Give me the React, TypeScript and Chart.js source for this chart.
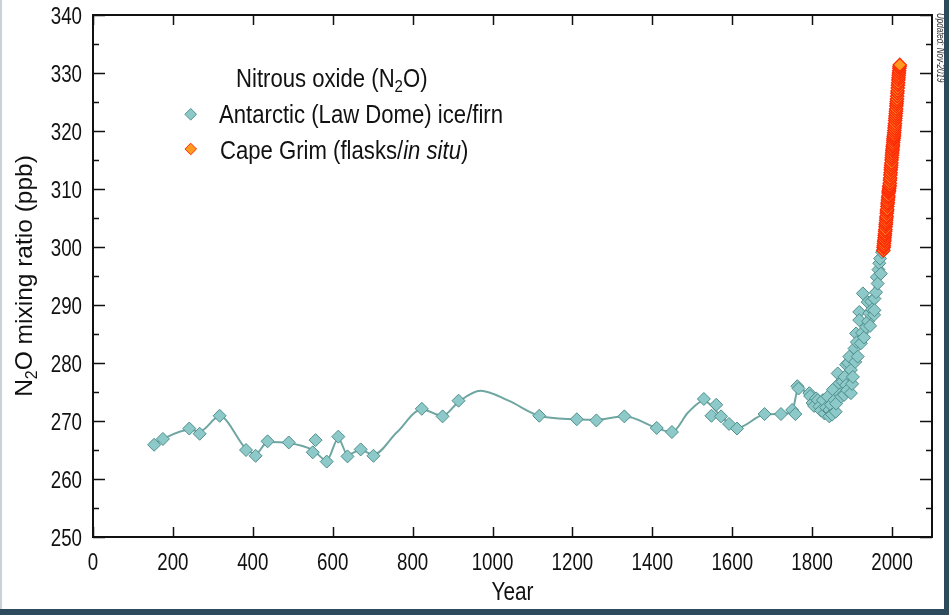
import React, { useEffect, useRef } from "react";
import { Chart, registerables } from "chart.js";

Chart.register(...registerables);

// ---------- DATA ----------
const X_TICKS = [0, 200, 400, 600, 800, 1000, 1200, 1400, 1600, 1800, 2000];
const Y_TICKS = [250, 260, 270, 280, 290, 300, 310, 320, 330, 340];

const LEGEND_TITLE = "Nitrous oxide (N₂O)";
const SERIES_ANTARCTIC = "Antarctic (Law Dome) ice/firn";
const SERIES_CAPEGRIM = "Cape Grim (flasks/in situ)";
const X_TITLE = "Year";
const Y_TITLE = "N₂O mixing ratio (ppb)";
const UPDATED = "Updated: Nov-2019";

// Antarctic (Law Dome) ice/firn samples [year, ppb]
const antarcticYears = [
  153, 175, 241, 267, 317, 383, 407, 437, 490, 550, 557, 585, 614, 637, 670, 702,
  823, 875, 915, 1117, 1211, 1260, 1330, 1411, 1449, 1529, 1548, 1560, 1572, 1592,
  1612, 1681, 1722, 1750, 1758, 1763, 1766,
  1793, 1795, 1801, 1805, 1810, 1814, 1818, 1822, 1827, 1831, 1835, 1839, 1843, 1843,
  1847, 1850, 1852, 1856, 1859, 1860, 1864, 1868, 1870, 1873, 1876, 1880, 1881, 1885,
  1885, 1888, 1890, 1893, 1897, 1897, 1900, 1902, 1906, 1908, 1910, 1912, 1914, 1918,
  1918, 1922, 1925, 1927, 1930, 1935, 1939, 1940, 1943, 1945, 1948, 1950, 1955, 1956,
  1956, 1960, 1962, 1964, 1966, 1968, 1970, 1972, 1975, 1978,
];
const antarcticValues = [
  265.9, 266.9, 268.7, 267.8, 270.9, 265.0, 264.0, 266.5, 266.3, 264.6, 266.7, 263.0, 267.3, 263.9, 265.1, 264.0,
  272.1, 270.8, 273.5, 270.9, 270.3, 270.1, 270.8, 268.8, 268.1, 273.8, 270.9, 272.8, 270.8, 269.5,
  268.7, 271.2, 271.2, 271.9, 271.2, 276.0, 275.6,
  274.8, 274.3, 273.1, 272.6, 273.9, 273.6, 272.5, 271.8, 273.6, 271.3, 272.3, 274.2, 271.9, 270.8,
  272.8, 271.1, 275.4, 273.6, 271.6, 273.0, 278.2, 276.5, 274.6, 274.2, 276.8, 274.5, 277.6, 279.7,
  276.2, 275.3, 280.0, 281.1, 278.8, 274.8, 276.4, 277.6, 282.5, 280.2, 285.1, 283.6, 281.1, 288.8,
  287.4, 283.4, 285.2, 292.0, 284.4, 286.2, 290.5, 287.2, 288.6, 286.4, 290.6, 289.2, 288.3, 291.1,
  289.1, 292.2, 294.8, 293.7, 296.1, 297.2, 298.0, 295.4, 299.1, 299.6,
];

// Smoothing-spline fit through the ice-core record [year, ppb]
const curveYears = [
  150, 175, 241, 267, 317, 383, 407, 437, 490, 550, 585, 614, 637, 670, 702, 760,
  823, 875, 915, 970, 1040, 1117, 1211, 1260, 1330, 1411, 1449, 1490, 1529, 1572,
  1612, 1681, 1722, 1750, 1766, 1793, 1820, 1850, 1870, 1890, 1910, 1930, 1950, 1970, 1980,
];
const curveValues = [
  265.9, 266.9, 268.5, 268.2, 270.8, 265.2, 264.3, 266.4, 266.2, 265.0, 263.2, 267.0, 264.2, 265.0, 264.2, 268.0,
  272.0, 270.9, 273.3, 275.2, 273.5, 270.9, 270.3, 270.2, 270.8, 268.8, 268.1, 271.5, 273.5, 270.8,
  268.8, 271.1, 271.2, 271.7, 275.8, 274.3, 273.0, 273.5, 275.5, 278.5, 283.0, 287.0, 291.0, 298.0, 301.0,
];

// Cape Grim (flasks / in situ) [year, ppb]
const capeGrimYears = [
  1978.2, 1978.8, 1979.3, 1979.8, 1980.3, 1980.8, 1981.3, 1981.8, 1982.3, 1982.8,
  1983.3, 1983.8, 1984.3, 1984.8, 1985.3, 1985.8, 1986.3, 1986.8, 1987.3, 1987.8,
  1988.3, 1988.8, 1989.3, 1989.8, 1990.3, 1990.8, 1991.3, 1991.8, 1992.3, 1992.8,
  1993.3, 1993.8, 1994.3, 1994.8, 1995.3, 1995.8, 1996.3, 1996.8, 1997.3, 1997.8,
  1998.3, 1998.8, 1999.3, 1999.8, 2000.3, 2000.8, 2001.3, 2001.8, 2002.3, 2002.8,
  2003.3, 2003.8, 2004.3, 2004.8, 2005.3, 2005.8, 2006.3, 2006.8, 2007.3, 2007.8,
  2008.3, 2008.8, 2009.3, 2009.8, 2010.3, 2010.8, 2011.3, 2011.8, 2012.3, 2012.8,
  2013.3, 2013.8, 2014.3, 2014.8, 2015.3, 2015.8, 2016.3, 2016.8, 2017.3, 2017.8,
  2018.3, 2018.8, 2019.3,
];
const capeGrimValues = [
  299.4, 299.9, 300.2, 300.6, 301.0, 301.2, 301.6, 302.0, 302.3, 302.7,
  303.0, 303.5, 303.9, 304.2, 304.6, 305.0, 305.3, 305.8, 306.2, 306.5,
  307.0, 307.4, 307.7, 308.1, 308.5, 308.8, 309.3, 309.6, 309.8, 310.1,
  310.4, 310.6, 311.0, 311.5, 311.9, 312.4, 312.8, 313.3, 313.7, 314.1,
  314.5, 315.0, 315.4, 315.8, 316.2, 316.6, 316.9, 317.3, 317.6, 318.0,
  318.4, 318.7, 319.0, 319.3, 319.7, 320.1, 320.5, 320.9, 321.3, 321.8,
  322.2, 322.6, 323.0, 323.4, 323.8, 324.3, 324.7, 325.1, 325.5, 326.0,
  326.5, 326.9, 327.4, 327.9, 328.3, 328.8, 329.2, 329.6, 330.0, 330.4,
  330.8, 331.1, 331.4,
];

// ---------- STYLE ----------
const FONT = '"Liberation Sans", Arial, Helvetica, sans-serif';
const TEAL_FACE = "#8DC9C8";
const TEAL_EDGE = "#4E8E8C";
const CURVE = "#6FA6A2";
const ORANGE_FACE = "#FF9A1F";
const ORANGE_EDGE = "#FF2A08";

type Part = { t: string; sub?: boolean; italic?: boolean };

function parseRich(s: string): Part[] {
  const out: Part[] = [];
  const re = /(₂|in situ)/g;
  let last = 0;
  let m: RegExpExecArray | null;
  while ((m = re.exec(s))) {
    if (m.index > last) out.push({ t: s.slice(last, m.index) });
    if (m[0] === "₂") out.push({ t: "2", sub: true });
    else out.push({ t: m[0], italic: true });
    last = m.index + m[0].length;
  }
  if (last < s.length) out.push({ t: s.slice(last) });
  return out;
}

function drawRich(
  ctx: CanvasRenderingContext2D,
  text: string,
  x: number,
  y: number,
  size: number,
  sx: number,
  align: "left" | "center" | "right",
  rotate = 0,
  color = "#111",
  italicAll = false
) {
  const parts = parseRich(text);
  ctx.save();
  ctx.translate(x, y);
  if (rotate) ctx.rotate(rotate);
  ctx.scale(sx, 1);
  ctx.fillStyle = color;
  ctx.textBaseline = "alphabetic";
  ctx.textAlign = "left";
  const fontOf = (p: Part) =>
    `${p.italic || italicAll ? "italic " : ""}${p.sub ? Math.round(size * 0.66) : size}px ${FONT}`;
  let total = 0;
  const widths = parts.map((p) => {
    ctx.font = fontOf(p);
    const w = ctx.measureText(p.t).width;
    total += w;
    return w;
  });
  let cx = align === "left" ? 0 : align === "center" ? -total / 2 : -total;
  parts.forEach((p, i) => {
    ctx.font = fontOf(p);
    ctx.fillText(p.t, cx, p.sub ? size * 0.2 : 0);
    cx += widths[i];
  });
  ctx.restore();
}

function diamond(ctx: CanvasRenderingContext2D, x: number, y: number, r: number, face: string, edge: string) {
  ctx.save();
  ctx.beginPath();
  ctx.moveTo(x, y - r);
  ctx.lineTo(x + r, y);
  ctx.lineTo(x, y + r);
  ctx.lineTo(x - r, y);
  ctx.closePath();
  ctx.fillStyle = face;
  ctx.fill();
  ctx.lineWidth = 1;
  ctx.strokeStyle = edge;
  ctx.stroke();
  ctx.restore();
}

const decorPlugin = {
  id: "decor",
  afterDraw(chart: any) {
    const ctx: CanvasRenderingContext2D = chart.ctx;
    const xs = chart.scales.x;
    const ys = chart.scales.y;
    const { left, right, top, bottom } = chart.chartArea;

    ctx.save();
    ctx.strokeStyle = "#111";
    ctx.lineWidth = 2;
    ctx.strokeRect(left, top, right - left, bottom - top);

    ctx.lineWidth = 1.5;
    ctx.beginPath();
    X_TICKS.forEach((v) => {
      const px = Math.round(xs.getPixelForValue(v)) + 0.5;
      ctx.moveTo(px, bottom);
      ctx.lineTo(px, bottom - 10);
      ctx.moveTo(px, top);
      ctx.lineTo(px, top + 10);
    });
    Y_TICKS.forEach((v, i) => {
      const py = Math.round(ys.getPixelForValue(v)) + 0.5;
      ctx.moveTo(left, py);
      ctx.lineTo(left + 12, py);
      ctx.moveTo(right, py);
      ctx.lineTo(right - 12, py);
      if (i < Y_TICKS.length - 1) {
        const pm = Math.round(ys.getPixelForValue(v + 5)) + 0.5;
        ctx.moveTo(left, pm);
        ctx.lineTo(left + 6, pm);
        ctx.moveTo(right, pm);
        ctx.lineTo(right - 6, pm);
      }
    });
    ctx.stroke();
    ctx.restore();

    X_TICKS.forEach((v) => {
      drawRich(ctx, String(v), xs.getPixelForValue(v), bottom + 33, 24, 0.78, "center");
    });
    Y_TICKS.forEach((v) => {
      drawRich(ctx, String(v), left - 11, ys.getPixelForValue(v) + 8.5, 24, 0.78, "right");
    });

    drawRich(ctx, X_TITLE, (left + right) / 2, bottom + 63, 26, 0.8, "center");
    drawRich(ctx, Y_TITLE, 32, 276, 24.5, 1, "center", -Math.PI / 2);

    drawRich(ctx, LEGEND_TITLE, 236, 86.5, 25, 0.885, "left");
    diamond(ctx, 190.7, 114.3, 5.8, TEAL_FACE, TEAL_EDGE);
    drawRich(ctx, SERIES_ANTARCTIC, 219, 123.3, 25, 0.885, "left");
    diamond(ctx, 190.7, 149, 5.8, ORANGE_FACE, ORANGE_EDGE);
    drawRich(ctx, SERIES_CAPEGRIM, 220, 159, 25, 0.885, "left");

    drawRich(ctx, UPDATED, 937, 13, 10, 0.8, "left", Math.PI / 2, "#333", true);
  },
};

export default function App() {
  const ref = useRef<HTMLCanvasElement | null>(null);

  useEffect(() => {
    if (!ref.current) return;
    const antarctic = antarcticYears.map((x, i) => ({ x, y: antarcticValues[i] }));
    const curve = curveYears.map((x, i) => ({ x, y: curveValues[i] }));
    const capeGrim = capeGrimYears.map((x, i) => ({ x, y: capeGrimValues[i] }));

    const chart = new Chart(ref.current, {
      type: "scatter",
      data: {
        datasets: [
          {
            label: SERIES_CAPEGRIM,
            data: capeGrim,
            pointStyle: "rectRot",
            pointRadius: 6.6,
            pointBackgroundColor: ORANGE_FACE,
            pointBorderColor: ORANGE_EDGE,
            pointBorderWidth: 1.4,
            order: 0,
          },
          {
            label: SERIES_ANTARCTIC,
            data: antarctic,
            pointStyle: "rectRot",
            pointRadius: 6.5,
            pointBackgroundColor: TEAL_FACE,
            pointBorderColor: TEAL_EDGE,
            pointBorderWidth: 1,
            order: 1,
          },
          {
            label: "fit",
            data: curve,
            showLine: true,
            pointRadius: 0,
            borderColor: CURVE,
            borderWidth: 2,
            cubicInterpolationMode: "monotone",
            order: 2,
          } as any,
        ],
      },
      options: {
        responsive: false,
        animation: false,
        devicePixelRatio: 1,
        layout: { padding: { left: 93, top: 15, right: 17, bottom: 78 } },
        plugins: { legend: { display: false }, tooltip: { enabled: false } },
        scales: {
          x: { type: "linear", min: 0, max: 2100, display: false },
          y: { type: "linear", min: 250, max: 340, display: false },
        },
      },
      plugins: [decorPlugin],
    });
    return () => chart.destroy();
  }, []);

  return (
    <div
      style={{
        position: "fixed",
        left: 0,
        top: 0,
        width: 949,
        height: 615,
        background: "#fff",
        overflow: "hidden",
      }}
    >
      <canvas ref={ref} width={949} height={615} style={{ position: "absolute", left: 0, top: 0 }} />
      <div style={{ position: "absolute", left: 0, top: 0, width: 2, height: 609, background: "#c9d2d6" }} />
      <div style={{ position: "absolute", left: 944, top: 0, width: 5, height: 615, background: "#2e4a5d" }} />
      <div style={{ position: "absolute", left: 0, top: 609, width: 949, height: 6, background: "#2e4a5d" }} />
    </div>
  );
}
